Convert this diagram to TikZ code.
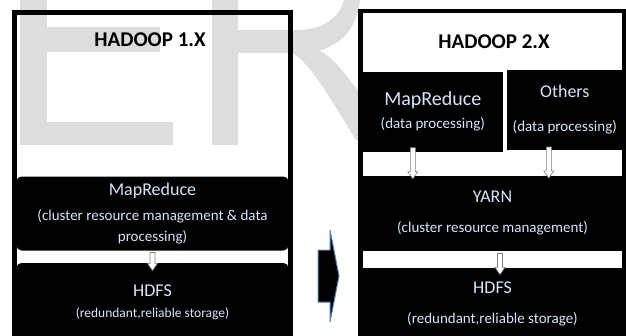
\documentclass[tikz,border=0pt]{standalone}
\usepackage{fontspec}
\setmainfont{Carlito}
\usetikzlibrary{shapes.arrows}
\definecolor{lblue}{HTML}{D6E6FA}
\definecolor{wmgray}{HTML}{DDDDDD}
\definecolor{chevblue}{HTML}{4F81BD}
\newcommand\headtxt{\fontsize{21}{25}\selectfont\bfseries}
\newcommand\bigtxt{\fontsize{18}{21}\selectfont}
\newcommand\subtxt{\fontsize{13.5}{21}\selectfont}
\newcommand\widetxt{\fontsize{15}{21}\selectfont}

\begin{document}
\begin{tikzpicture}[block/.style={fill=black, text=lblue, align=center, inner sep=0pt, font=\subtxt}, hollow/.style={single arrow, draw=gray, fill=white, shape border rotate=270, inner sep=2.2pt, single arrow head extend=2.5pt, single arrow tip angle=70, line width=0.6pt}, frame/.style={draw=black, line width=5pt}, wmark/.style={fill=wmgray}]
\useasboundingbox (0pt,0pt) rectangle (626pt,-335pt);
% watermark letters
\fill[wmark] (20pt,0pt) rectangle (47pt,-145pt);
\fill[wmark] (47pt,-27pt) rectangle (160pt,-52pt);
\fill[wmark] (47pt,-122pt) rectangle (173pt,-145pt);
\fill[wmark] (212pt,0pt) rectangle (238pt,-145pt);
\fill[wmark] (238pt,-30pt) -- (300pt,-30pt) .. controls (328pt,-28pt) and (340pt,-15pt) .. (344pt,0pt) -- (360pt,0pt) .. controls (357pt,-28pt) and (342pt,-46pt) .. (312pt,-53pt) -- (238pt,-53pt) -- cycle;
\fill[wmark] (293pt,-53pt) .. controls (312pt,-65pt) and (332pt,-102pt) .. (356pt,-140pt) -- (360pt,-140pt) -- (360pt,-93pt) .. controls (345pt,-75pt) and (335pt,-58pt) .. (320pt,-51pt) -- cycle;
% hadoop 1.x
\draw[frame] (14.5pt,-12pt) rectangle (290.5pt,-345pt);
\draw (150.0pt, -40.0pt)node[font=\headtxt](t1){HADOOP 1.X};
\draw (152.5pt, -213.5pt)node[block, rounded corners=5pt, minimum width=272pt, minimum height=74pt](mr1){{\bigtxt MapReduce}\\[4pt]{\widetxt (cluster resource management \& data}\\{\widetxt processing)}};
\draw (152.5pt, -302.0pt)node[block, rounded corners=5pt, minimum width=272pt, minimum height=78pt](hdfs1){{\bigtxt HDFS}\\(redundant,reliable storage)};
\path (mr1.south) -- (hdfs1.north) node[midway, yshift=-3pt, hollow, minimum height=18pt]{};
% arrow between
\draw[fill=black, draw=chevblue, line width=1pt] (318pt,-250pt) -- (330pt,-250pt) -- (330pt,-230pt) -- (339pt,-276pt) -- (330pt,-322pt) -- (330pt,-302pt) -- (318pt,-302pt) -- cycle;
% hadoop 2.x
\draw[frame, line width=4.5pt] (360.5pt,-11pt) rectangle (624.5pt,-345pt);
\draw (494.0pt, -42.0pt)node[font=\headtxt](t2){HADOOP 2.X};
\draw (432.8pt, -111.5pt)node[block, font=\widetxt, minimum width=141pt, minimum height=80pt](mr2){{\fontsize{20}{21}\selectfont MapReduce}\\[2pt](data processing)};
\draw (564.8pt, -110.0pt)node[block, font=\widetxt, minimum width=116pt, minimum height=80pt](oth2){{\bigtxt Others}\\[13pt](data processing)};
\draw (492.5pt, -213.0pt)node[block, font=\widetxt, minimum width=260pt, minimum height=75pt](yarn){{\bigtxt YARN}\\[9pt](cluster resource management)};
\draw (492.5pt, -303.5pt)node[block, font=\widetxt, minimum width=260pt, minimum height=71pt](hdfs2){{\bigtxt HDFS}\\[9pt](redundant,reliable storage)};
\path ([xshift=-20pt]mr2.south) -- ([xshift=-20pt]mr2.south |- yarn.north) node[midway, yshift=2pt, hollow, minimum height=31pt]{};
\path ([xshift=-16pt]oth2.south) -- ([xshift=-16pt]oth2.south |- yarn.north) node[midway, yshift=2pt, hollow, minimum height=31pt]{};
\path ([xshift=7.5pt]yarn.south) -- ([xshift=7.5pt]yarn.south |- hdfs2.north) node[midway, yshift=-3pt, hollow, minimum height=21pt]{};
\end{tikzpicture}
\end{document}
